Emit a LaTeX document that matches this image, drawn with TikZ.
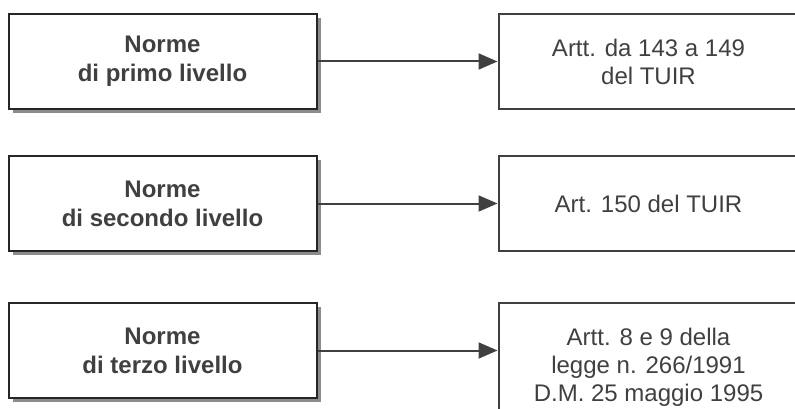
\documentclass[tikz,border=0pt]{standalone}
\usepackage{fontspec}
\setsansfont{Liberation Sans}
\usetikzlibrary{arrows.meta, positioning, shadows}

\begin{document}
\begin{tikzpicture}[
  x=1pt, y=-1pt,
  font=\sffamily\fontsize{24}{28}\selectfont,
  text=black!75,
  level/.style={draw=black!85, line width=2pt, fill=white, minimum width=308pt,
                minimum height=95pt, align=center,
                font=\sffamily\bfseries\fontsize{24}{29}\selectfont,
                drop shadow={shadow xshift=4pt, shadow yshift=-4pt, fill=black!45, opacity=1}},
  ref/.style={draw=black!75, line width=2pt, minimum width=300pt, minimum height=95pt,
              align=center},
  arr/.style={-{Triangle[length=19pt,width=16pt]}, line width=2pt, draw=black!75},
  node distance=180pt,
]
\useasboundingbox (0,0) rectangle (795,409);
\clip (0,0) rectangle (795,409);

% --- levels of the norms ---
\node[level] at (162.5,61.5)   (prim) {Norme\\di primo livello};
\node[level, below=45pt of prim] (sec)  {Norme\\di secondo livello};
\node[level, below=50pt of sec]  (terz) {Norme\\di terzo livello};

% --- the sources they point to ---
\node[ref, right=of prim] (tuir) {Artt. da 143 a 149\\del TUIR};
\node[ref, right=of sec]  (art)  {Art. 150 del TUIR};
\node[ref, right=of terz, minimum height=128pt, yshift=-16.5pt] (dm)
  {Artt. 8 e 9 della\\legge n. 266/1991\\D.M. 25 maggio 1995};

\draw[arr] (prim) -- (tuir);
\draw[arr] (sec) -- (art);
\draw[arr] (terz.east) -- (terz.east -| dm.west);
\end{tikzpicture}
\end{document}
